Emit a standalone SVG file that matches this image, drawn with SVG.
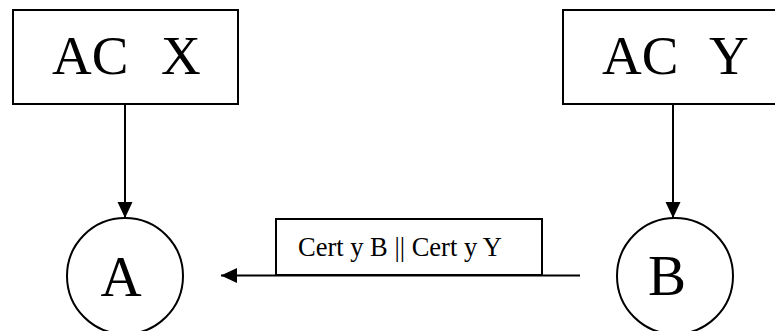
<svg xmlns="http://www.w3.org/2000/svg" width="775" height="331" viewBox="0 0 775 331">
<style>
.box{fill:#fff;stroke:#000;stroke-width:2}
.ln{fill:none;stroke:#000;stroke-width:2}
.t{font-family:"Liberation Serif","Times New Roman",serif;fill:#000}
.big{font-size:55px}
</style>
<defs>
<marker id="ah" viewBox="0 0 16 16" refX="16" refY="8" markerWidth="16" markerHeight="16" markerUnits="userSpaceOnUse" orient="auto">
<path d="M0,0.5 L16,8 L0,15.5 Z" fill="#000"/>
</marker>
</defs>
<g id="connectors">
<line class="ln" x1="125" y1="104" x2="125" y2="218" marker-end="url(#ah)"/>
<line class="ln" x1="673" y1="104" x2="673" y2="218" marker-end="url(#ah)"/>
<line class="ln" x1="580" y1="275.5" x2="221" y2="275.5" marker-end="url(#ah)"/>
</g>
<g id="acx">
<rect class="box" x="13" y="10" width="225" height="94"/>
<text class="t big" x="52" y="74" xml:space="preserve">AC  <tspan dx="5">X</tspan></text>
</g>
<g id="acy">
<rect class="box" x="563" y="10" width="230" height="94"/>
<text class="t big" x="602" y="74" xml:space="preserve">AC  <tspan dx="5">Y</tspan></text>
</g>
<g id="label">
<rect class="box" x="276" y="219" width="266" height="56"/>
<text class="t" x="298" y="256" font-size="26.5">Cert y B || Cert y Y</text>
</g>
<g id="a">
<circle class="ln" cx="125" cy="276" r="58"/>
<text class="t" x="121" y="296" font-size="57" text-anchor="middle">A</text>
</g>
<g id="b">
<circle class="ln" cx="675" cy="276" r="58"/>
<text class="t" x="667" y="295" font-size="57" text-anchor="middle">B</text>
</g>
</svg>
